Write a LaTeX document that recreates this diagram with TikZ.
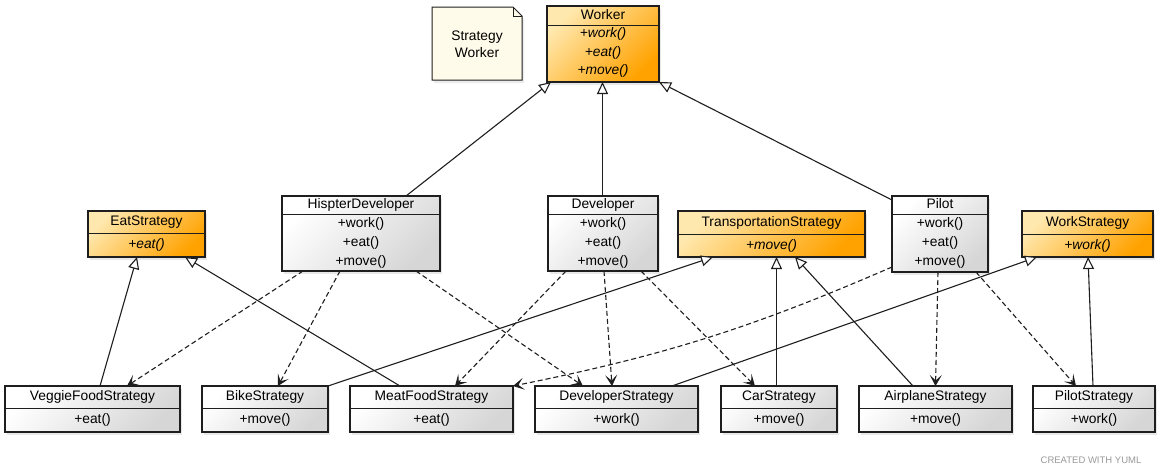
\documentclass[tikz,border=0pt]{standalone}
\usepackage{fontspec}
\setmainfont{Liberation Sans}
\usetikzlibrary{arrows.meta,shadows,calc}
\definecolor{olight}{HTML}{FFE8AE}
\definecolor{odark}{HTML}{FFA200}
\definecolor{glight}{HTML}{FFFFFF}
\definecolor{gdark}{HTML}{D6D6D6}
\definecolor{notefill}{HTML}{FFFBEA}
\definecolor{edgecol}{HTML}{1E1E1E}
\definecolor{credit}{HTML}{9A9A9A}
\tikzset{
  box/.style={draw=edgecol, line width=1.2pt, inner sep=0pt, outer sep=0pt,
    drop shadow={opacity=0.18, shadow xshift=2pt, shadow yshift=-3pt}},
  obox/.style={box, top color=olight, bottom color=odark, shading angle=45},
  gbox/.style={box, top color=glight, bottom color=gdark, shading angle=45},
  divider/.style={draw=edgecol, line width=1pt},
  lbl/.style={font=\fontsize{13.8}{16}\selectfont, inner sep=0pt, text height=9.5pt, text depth=2.5pt, text=black},
  ilbl/.style={lbl, font=\fontsize{13.8}{16}\selectfont\itshape},
  inherit/.style={draw=edgecol, line width=1.1pt, -{Triangle[open, length=12pt, width=11pt, fill=white]}},
  depend/.style={draw=edgecol, line width=1.1pt, dash pattern=on 5pt off 3pt, -{Stealth[length=11pt, width=12pt, inset=5.5pt]}},
}
\newcommand\umlcls[8]{%
  \node[#2, minimum width={(#5-#3)*1pt}, minimum height={(#6-#4)*1pt}] (#1) at ({(#3+#5)/2},{(#4+#6)/2}) {};
  \draw[divider] (#1.west |- 0,#7) -- (#1.east |- 0,#7);
  \node[lbl] (#1-name) at ({(#3+#5)/2},{(#4+#7)/2}) {#8};
}
\begin{document}
\begin{tikzpicture}[x=1pt, y=-1pt]
\useasboundingbox (0,0) rectangle (1163,475);
\fill[white] (0,0) rectangle (1163,475);

% note
\node[minimum width=90pt, minimum height=73pt, inner sep=0pt, outer sep=0pt] (note) at (477,43.5) {};
\path[fill=notefill, draw=edgecol, line width=1pt, drop shadow={opacity=0.15, shadow xshift=2pt, shadow yshift=-3pt}]
  (note.north west) -- ([xshift=-9pt]note.north east) -- ([yshift=-9pt]note.north east)
  -- (note.south east) -- (note.south west) -- cycle;
\draw[edgecol, line width=0.8pt] ([xshift=-9pt]note.north east) -- ([xshift=-9pt, yshift=-9pt]note.north east) -- ([yshift=-9pt]note.north east);
\node[font=\fontsize{13.8}{16}\selectfont, inner sep=0pt, align=center] (note-text) at (477,44) {Strategy\\[1pt]Worker};

% top
\umlcls{worker}{obox}{547}{6}{659}{82}{25}{Worker}
\node[ilbl] (worker-m1) at (603,34) {+work()};
\node[ilbl] (worker-m2) at (603,52.5) {+eat()};
\node[ilbl] (worker-m3) at (603,71) {+move()};

% middle row
\umlcls{eat}{obox}{88}{211}{205}{257}{233}{EatStrategy}
\node[ilbl] (eat-m1) at (146.5,245) {+eat()};

\umlcls{hip}{gbox}{282}{196}{440}{271}{214}{HispterDeveloper}
\node[lbl] (hip-m1) at (361,224) {+work()};
\node[lbl] (hip-m2) at (361,243) {+eat()};
\node[lbl] (hip-m3) at (361,262) {+move()};

\umlcls{dev}{gbox}{548}{196}{658}{271}{214}{Developer}
\node[lbl] (dev-m1) at (603,224) {+work()};
\node[lbl] (dev-m2) at (603,243) {+eat()};
\node[lbl] (dev-m3) at (603,262) {+move()};

\umlcls{trans}{obox}{678}{211}{865}{257}{234}{TransportationStrategy}
\node[ilbl] (trans-m1) at (771.5,245.5) {+move()};

\umlcls{pilot}{gbox}{892}{196}{988}{272}{214}{Pilot}
\node[lbl] (pilot-m1) at (940,224) {+work()};
\node[lbl] (pilot-m2) at (940,243) {+eat()};
\node[lbl] (pilot-m3) at (940,262) {+move()};

\umlcls{work}{obox}{1022}{211}{1153}{257}{234}{WorkStrategy}
\node[ilbl] (work-m1) at (1087.5,245.5) {+work()};

% bottom row
\umlcls{veggie}{gbox}{5}{386}{180}{432}{408}{VeggieFoodStrategy}
\node[lbl] (veggie-m1) at (92.5,420) {+eat()};
\umlcls{bike}{gbox}{202}{386}{328}{432}{408}{BikeStrategy}
\node[lbl] (bike-m1) at (265,420) {+move()};
\umlcls{meat}{gbox}{350}{386}{513}{432}{408}{MeatFoodStrategy}
\node[lbl] (meat-m1) at (431.5,420) {+eat()};
\umlcls{devs}{gbox}{535}{386}{698}{432}{408}{DeveloperStrategy}
\node[lbl] (devs-m1) at (616.5,420) {+work()};
\umlcls{car}{gbox}{721}{386}{837}{432}{408}{CarStrategy}
\node[lbl] (car-m1) at (779,420) {+move()};
\umlcls{air}{gbox}{859}{386}{1012}{432}{408}{AirplaneStrategy}
\node[lbl] (air-m1) at (935.5,420) {+move()};
\umlcls{pils}{gbox}{1033}{386}{1155}{432}{408}{PilotStrategy}
\node[lbl] (pils-m1) at (1094,420) {+work()};

% inheritance
\draw[inherit] ([xshift=124pt]hip.north west) -- ([xshift=4pt]worker.south west);
\draw[inherit] ([xshift=-0.5pt]dev.north) -- ([xshift=-0.5pt]worker.south);
\draw[inherit] ([yshift=-4pt]pilot.north west) -- (worker.south east);
\draw[inherit] ([xshift=95pt]veggie.north west) -- ([xshift=49pt]eat.south west);
\draw[inherit] ([xshift=50pt]meat.north west) -- ([xshift=97pt]eat.south west);
\draw[inherit] (bike.north east) -- ([xshift=35pt]trans.south west);
\draw[inherit] ([xshift=55.5pt]car.north west) -- ([xshift=98.5pt]trans.south west);
\draw[inherit] ([xshift=54pt]air.north west) -- ([xshift=117pt]trans.south west);
\draw[inherit] ([xshift=137pt]devs.north west) -- ([xshift=15pt]work.south west);
\draw[inherit] ([xshift=60pt]pils.north west) -- ([xshift=66pt]work.south west);

% dependencies
\draw[depend] ([xshift=21pt]hip.south west) -- ([xshift=122pt]veggie.north west);
\draw[depend] ([xshift=58pt]hip.south west) -- ([xshift=76pt]bike.north west);
\draw[depend] ([xshift=134pt]hip.south west) -- ([xshift=48pt]devs.north west);
\draw[depend] ([xshift=18pt]dev.south west) -- ([xshift=105pt]meat.north west);
\draw[depend] ([xshift=56pt]dev.south west) -- ([xshift=77pt]devs.north west);
\draw[depend] ([xshift=93pt]dev.south west) -- ([xshift=34pt]car.north west);
\draw[depend] ([yshift=5pt]pilot.south west) to[bend left=6] (meat.north east);
\draw[depend] ([xshift=46pt]pilot.south west) -- (air.north);
\draw[depend] ([xshift=84pt]pilot.south west) -- ([xshift=43pt]pils.north west);

\node[font=\fontsize{9.5}{11}\selectfont, text=credit, inner sep=0pt] (credit) at (1091,460) {CREATED WITH YUML};
\end{tikzpicture}
\end{document}
